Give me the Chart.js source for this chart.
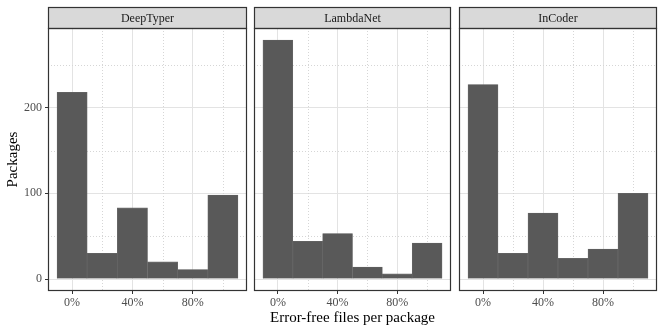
<!DOCTYPE html>
<html lang="en">
<head>
<meta charset="UTF-8">
<title>Error-free files per package</title>
<style>
  html, body { margin: 0; padding: 0; background: #fff; }
  #wrap { position: relative; width: 664px; height: 332px; overflow: hidden; }
  #wrap canvas { position: absolute; top: 0; }
</style>
<script src="https://cdn.jsdelivr.net/npm/chart.js"></script>
</head>
<body>
<div id="wrap">
  <canvas id="c0" width="250" height="332" style="left:0px"></canvas>
  <canvas id="c1" width="205" height="332" style="left:250px"></canvas>
  <canvas id="c2" width="209" height="332" style="left:455px"></canvas>
</div>
<script>
// histogram bins (centres, width 0.2) and counts per model
const models = ['DeepTyper', 'LambdaNet', 'InCoder'];
const binCenters = [0, 0.2, 0.4, 0.6, 0.8, 1.0];
const deepTyper = [218, 30, 83, 20, 11, 98];
const lambdaNet = [279, 44, 53, 14, 6, 42];
const inCoder = [227, 30, 77, 24, 35, 100];
const xTicks = [0, 0.4, 0.8];
const xMinor = [0.2, 0.6, 1.0];
const yTicks = [0, 100, 200];
const yMinor = [50, 150, 250];

const counts = [deepTyper, lambdaNet, inCoder];
const serif = "'Liberation Serif', 'DejaVu Serif', serif";

// strip on top, dotted minor grid and the panel border
const facetPlugin = {
  id: 'facet',
  beforeDatasetsDraw(chart) {
    const ctx = chart.ctx, a = chart.chartArea;
    const xs = chart.scales.x, ys = chart.scales.y;
    ctx.save();
    ctx.strokeStyle = '#d6d6d6';
    ctx.lineWidth = 1;
    ctx.setLineDash([1, 2]);
    xMinor.forEach(v => {
      const px = Math.round(xs.getPixelForValue(v)) + 0.5;
      ctx.beginPath(); ctx.moveTo(px, a.top); ctx.lineTo(px, a.bottom); ctx.stroke();
    });
    yMinor.forEach(v => {
      const py = Math.round(ys.getPixelForValue(v)) + 0.5;
      ctx.beginPath(); ctx.moveTo(a.left, py); ctx.lineTo(a.right, py); ctx.stroke();
    });
    ctx.restore();
  },
  afterDraw(chart) {
    const ctx = chart.ctx, a = chart.chartArea;
    const title = chart.options.plugins.facet.title;
    ctx.save();
    ctx.fillStyle = '#d9d9d9';
    ctx.fillRect(a.left, 7, a.right - a.left, a.top - 7);
    ctx.strokeStyle = '#333';
    ctx.lineWidth = 1.2;
    ctx.strokeRect(a.left + 0.5, 7.5, a.right - a.left - 1, a.top - 7);
    ctx.strokeRect(a.left + 0.5, a.top + 0.5, a.right - a.left - 1, a.bottom - a.top - 1);
    ctx.fillStyle = '#1a1a1a';
    ctx.font = '12px ' + serif;
    ctx.textAlign = 'center';
    ctx.textBaseline = 'middle';
    ctx.fillText(title, (a.left + a.right) / 2, (7 + a.top) / 2 + 1);
    ctx.restore();
  }
};

function makePanel(i, padLeft, padRight, yWidth) {
  const first = i === 0, middle = i === 1;
  new Chart(document.getElementById('c' + i), {
    type: 'bar',
    data: {
      datasets: [{
        data: binCenters.map((x, k) => ({ x: x, y: counts[i][k] })),
        backgroundColor: '#595959',
        borderColor: '#6a6a6a',
        borderWidth: 0.6,
        barPercentage: 1,
        categoryPercentage: 1
      }]
    },
    options: {
      responsive: false,
      animation: false,
      layout: { padding: { top: 28, bottom: 0, left: padLeft, right: padRight } },
      plugins: {
        legend: { display: false },
        tooltip: { enabled: false },
        facet: { title: models[i] }
      },
      scales: {
        x: {
          type: 'linear',
          offset: false,
          min: -0.16,
          max: 1.16,
          afterBuildTicks: s => { s.ticks = xTicks.map(v => ({ value: v })); },
          afterFit: s => { s.height = 41; },
          grid: { offset: false, color: '#e3e3e3', lineWidth: 1, tickColor: '#333', tickLength: 3 },
          border: { display: false },
          ticks: {
            color: '#4d4d4d',
            padding: 2,
            maxRotation: 0,
            font: { family: serif, size: 12 },
            callback: v => Math.round(v * 100) + '%'
          },
          title: {
            display: middle,
            text: 'Error-free files per package',
            color: '#000',
            font: { family: serif, size: 15 },
            padding: { top: 0, bottom: 5 }
          }
        },
        y: {
          min: -14,
          max: 293,
          afterBuildTicks: s => { s.ticks = yTicks.map(v => ({ value: v })); },
          afterFit: s => { s.width = yWidth; },
          grid: { color: '#e3e3e3', lineWidth: 1, tickColor: '#333', tickLength: 3, drawTicks: first },
          border: { display: false },
          ticks: {
            display: first,
            color: '#4d4d4d',
            padding: 3,
            font: { family: serif, size: 12 }
          },
          title: {
            display: first,
            text: 'Packages',
            color: '#000',
            font: { family: serif, size: 15 },
            padding: { top: 4, bottom: 0 }
          }
        }
      }
    },
    plugins: [facetPlugin]
  });
}

makePanel(0, 0, 3, 48);
makePanel(1, 4, 4, 0);
makePanel(2, 4, 7, 0);
</script>
</body>
</html>
